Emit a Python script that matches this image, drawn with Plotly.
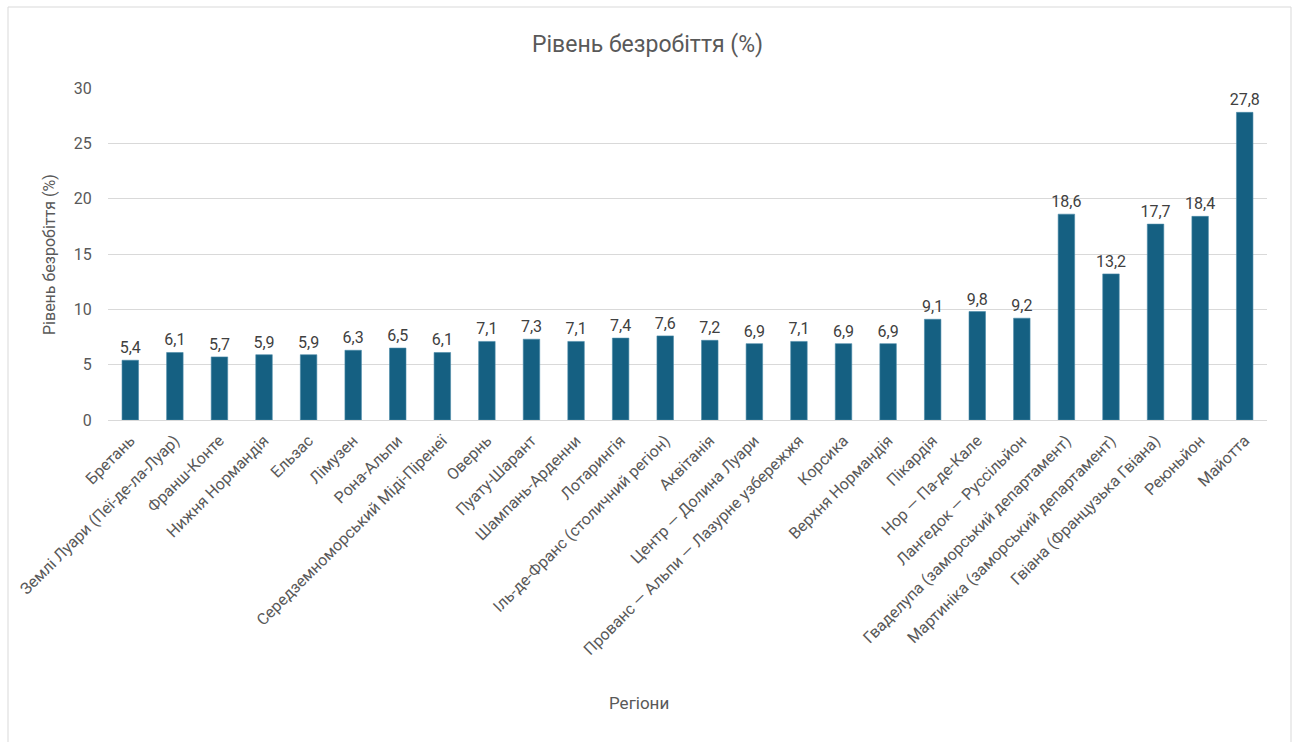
import plotly.graph_objects as go

regions = [
    "Бретань", "Землі Луари (Пеї-де-ла-Луар)", "Франш-Конте", "Нижня Нормандія",
    "Ельзас", "Лімузен", "Рона-Альпи", "Середземноморський Міді-Піренеї",
    "Овернь", "Пуату-Шарант", "Шампань-Арденни", "Лотарингія",
    "Іль-де-Франс (столичний регіон)", "Аквітанія", "Центр — Долина Луари",
    "Прованс — Альпи — Лазурне узбережжя", "Корсика", "Верхня Нормандія",
    "Пікардія", "Нор — Па-де-Кале", "Лангедок — Руссільйон",
    "Гваделупа (заморський департамент)", "Мартиніка (заморський департамент)",
    "Гвіана (Французька Гвіана)", "Реюньйон", "Майотта",
]
unemployment = [
    5.4, 6.1, 5.7, 5.9, 5.9, 6.3, 6.5, 6.1, 7.1, 7.3, 7.1, 7.4, 7.6,
    7.2, 6.9, 7.1, 6.9, 6.9, 9.1, 9.8, 9.2, 18.6, 13.2, 17.7, 18.4, 27.8,
]
y_ticks = [0, 5, 10, 15, 20, 25, 30]

FONT = "Roboto"
GRAY = "#595959"

fig = go.Figure(
    go.Bar(
        x=regions,
        y=unemployment,
        marker=dict(color="#156082", line=dict(color="#4a8aa8", width=0.6)),
        texttemplate="%{y:.1f}",
        textposition="outside",
        constraintext="none",
        textfont=dict(family=FONT, size=16, color="#404040"),
        cliponaxis=False,
        hoverinfo="x+y",
    )
)

fig.update_layout(
    width=1295,
    height=742,
    separators=", ",
    paper_bgcolor="white",
    plot_bgcolor="white",
    margin=dict(l=108, r=28, t=88, b=322),
    bargap=0.63,
    showlegend=False,
    title=dict(
        text="Рівень безробіття (%)",
        x=0.5,
        xanchor="center",
        y=1 - 44 / 742,
        yanchor="middle",
        font=dict(family=FONT, size=23, color=GRAY),
    ),
    font=dict(family=FONT, color=GRAY),
)
fig.update_layout(title_xref="container")

fig.update_yaxes(
    range=[0, 30],
    tickvals=y_ticks,
    showgrid=True,
    gridcolor="#d9d9d9",
    gridwidth=1,
    zeroline=True,
    zerolinecolor="#d9d9d9",
    zerolinewidth=1,
    showline=False,
    ticks="outside",
    ticklen=12,
    tickcolor="rgba(0,0,0,0)",
    tickfont=dict(family=FONT, size=16, color=GRAY),
    automargin=False,
)
fig.update_xaxes(
    tickangle=-45,
    showgrid=False,
    showline=False,
    ticks="outside",
    ticklen=4,
    tickcolor="rgba(0,0,0,0)",
    tickfont=dict(family=FONT, size=16, color=GRAY),
    automargin=False,
)

# axis titles as annotations
fig.add_annotation(
    text="Рівень безробіття (%)",
    xref="paper", yref="paper",
    x=(50 - 108) / 1159, y=0.497,
    textangle=-90, showarrow=False,
    xanchor="center", yanchor="middle",
    font=dict(family=FONT, size=16, color=GRAY),
)
fig.add_annotation(
    text="Регіони",
    xref="paper", yref="paper",
    x=(639 - 108) / 1159, y=(420 - 703) / 332,
    showarrow=False,
    xanchor="center", yanchor="middle",
    font=dict(family=FONT, size=17, color=GRAY),
)

# chart border
fig.add_shape(
    type="rect",
    xref="paper", yref="paper",
    x0=(8 - 108) / 1159, x1=(1291 - 108) / 1159,
    y0=(420 - 760) / 332, y1=(420 - 7) / 332,
    line=dict(color="#d9d9d9", width=1),
    fillcolor="rgba(0,0,0,0)",
    layer="below",
)

fig.write_html(
    "out.html",
    config={"displayModeBar": False},
    post_script="document.body.style.margin='0px';document.body.style.overflow='hidden';",
)
